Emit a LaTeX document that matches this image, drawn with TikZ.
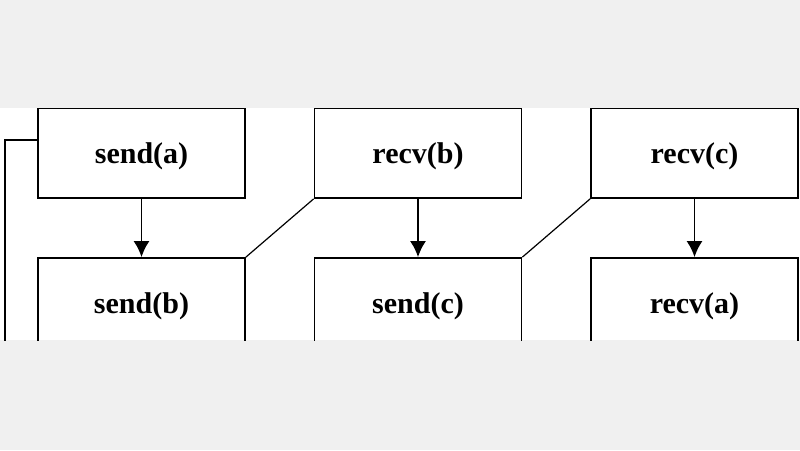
\documentclass[tikz,border=0pt]{standalone}
\usepackage{fontspec}
\setmainfont{Liberation Serif}
\usetikzlibrary{arrows.meta}
\begin{document}
\begin{tikzpicture}[x=1pt,y=-1pt,
  box/.style={draw,line width=1.8pt,minimum width=207pt,minimum height=90pt,inner sep=0pt,text depth=0pt,font=\fontsize{30}{36}\selectfont\bfseries},
  arr/.style={-{Latex[length=16pt,width=16pt]},line width=1.8pt},
  ln/.style={line width=1.2pt}]
\fill[gray!12] (0,0) rectangle (800,450);
\fill[white] (0,108) rectangle (800,340);
\begin{scope}
\clip (0,108) rectangle (800,340);
\node[box] (sa) at (141.5,153) {send(a)};
\node[box] (rb) at (418,153) {recv(b)};
\node[box] (rc) at (694.5,153) {recv(c)};
\node[box] (sb) at (141.5,303) {send(b)};
\node[box] (sc) at (418,303) {send(c)};
\node[box] (ra) at (694.5,303) {recv(a)};
\draw[arr] (sa) -- (sb);
\draw[arr] (rb) -- (sc);
\draw[arr] (rc) -- (ra);
\coordinate (l1) at (5,140);
\coordinate (l2) at (5,345);
\draw[ln] (sa.west |- l1) -- (l1) -- (l2);
\draw[ln] (sb.north east) -- (rb.south west);
\draw[ln] (sc.north east) -- (rc.south west);
\end{scope}
\end{tikzpicture}
\end{document}
